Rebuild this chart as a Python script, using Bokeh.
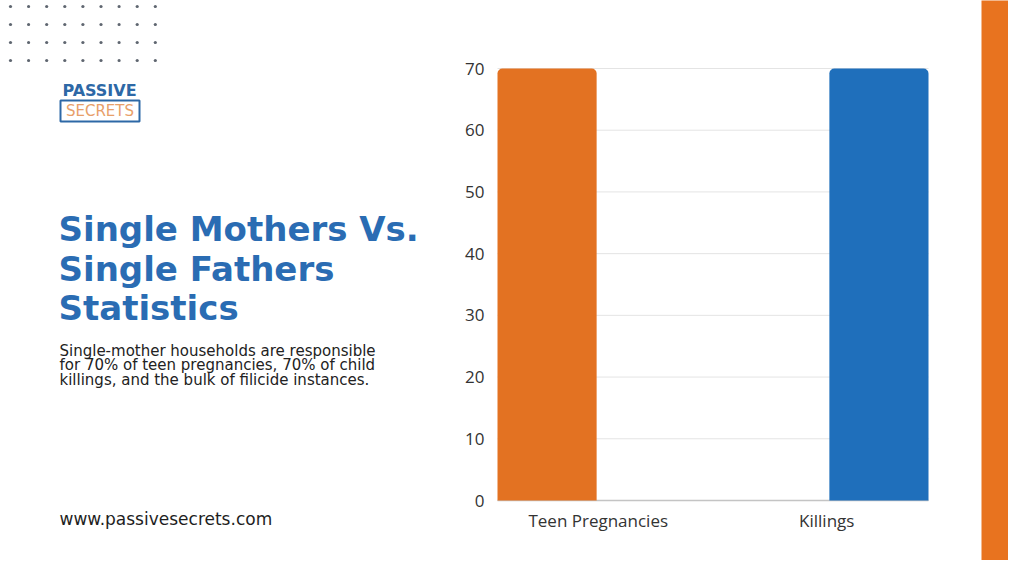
from bokeh.plotting import figure
from bokeh.models import Range1d, ColumnDataSource
from bokeh.core.properties import value
from bokeh.embed import file_html
from bokeh.resources import INLINE

# ---- data ----
categories = ["Teen Pregnancies", "Killings"]
values = [70, 70]
y_ticks = [0, 10, 20, 30, 40, 50, 60, 70]

title_lines = ["Single Mothers Vs.", "Single Fathers", "Statistics"]
desc_lines = ["Single-mother households are responsible",
              "for 70% of teen pregnancies, 70% of child",
              "killings, and the bulk of filicide instances."]
url_text = "www.passivesecrets.com"
logo_top = "PASSIVE"
logo_bottom = "SECRETS"

# ---- styles / layout ----
ORANGE = "#e37222"
BLUE = "#1f6fbb"
TITLE_BLUE = "#2a6cb3"
LOGO_BLUE = "#2d68a6"
bar_colors = [ORANGE, BLUE]
bar_offsets = [-0.27, 0.27]
label_nudge = [-7, 6]
BAR_W = 0.46

W, H = 1008, 560
PAGE_L, PAGE_T = 0, 0            # page offset of the canvas in the picture
CH_L, CH_R = 497, 928            # chart frame in picture pixels
CH_TOP, CH_BOT = 68, 500
Y_MAX = 70
n = len(categories)

# picture-pixel coordinates for the whole canvas
p = figure(width=W, height=H,
           x_range=Range1d(PAGE_L, PAGE_L + W),
           y_range=Range1d(PAGE_T + H, PAGE_T),
           output_backend="svg", toolbar_location=None,
           x_axis_type=None, y_axis_type=None, min_border=0)
p.outline_line_color = None
p.background_fill_color = "white"
p.border_fill_color = "white"
p.grid.visible = False

# chart ranges mapped so that 0..n spans CH_L..CH_R and 0..Y_MAX spans CH_BOT..CH_TOP
kx = n / (CH_R - CH_L)
ky = Y_MAX / (CH_BOT - CH_TOP)
p.extra_x_ranges = {"cx": Range1d((PAGE_L - CH_L) * kx, (PAGE_L + W - CH_L) * kx)}
p.extra_y_ranges = {"cy": Range1d(-(PAGE_T + H - CH_BOT) * ky,
                                  Y_MAX + (CH_TOP - PAGE_T) * ky)}
C = dict(x_range_name="cx", y_range_name="cy")

# gridlines
p.segment(x0=[0] * len(y_ticks), x1=[n] * len(y_ticks), y0=y_ticks, y1=y_ticks,
          line_color="#e4e4e4", line_width=1, **C)
# baseline
p.segment(x0=[0], x1=[n], y0=[0], y1=[0], line_color="#c4c4c4", line_width=1.5, **C)

# bars
centers = [i + 0.5 for i in range(n)]
src = ColumnDataSource(dict(
    x=[c + o for c, o in zip(centers, bar_offsets)],
    top=values, color=bar_colors, cat=categories))
p.vbar(x="x", top="top", bottom=0, width=BAR_W, source=src, color="color",
       line_color=None, border_radius=(5, 5, 0, 0), **C)

# y tick labels
p.text(x=[0] * len(y_ticks), y=y_ticks, text=[str(t) for t in y_ticks],
       x_offset=-13, text_align="right", text_baseline="middle",
       text_font=value("Open Sans"), text_font_size="17px",
       text_color="#333333", **C)
# category labels
p.text(x=centers, y=[0] * n, text=categories, x_offset=label_nudge, y_offset=8,
       text_align="center", text_baseline="top",
       text_font=value("Open Sans"), text_font_size="17px",
       text_color="#333333", **C)

# ---- decorations in picture pixels ----
dot_x, dot_y = [], []
for r in range(4):
    for c in range(9):
        dot_x.append(10 + c * 18.1)
        dot_y.append(6 + r * 18)
p.scatter(x=dot_x, y=dot_y, size=3.2, color="#5f6670", line_color=None)

# logo
p.text(x=[99], y=[89.5], text=[logo_top], text_align="center", text_baseline="middle",
       text_font=value("DejaVu Sans"), text_font_style="bold", text_font_size="16px",
       text_color=LOGO_BLUE)
p.quad(left=[60], right=[139], top=[100], bottom=[121], fill_color="white",
       line_color=LOGO_BLUE, line_width=2)
p.text(x=[99.5], y=[110.5], text=[logo_bottom], text_align="center",
       text_baseline="middle", text_font=value("DejaVu Sans"),
       text_font_size="15px", text_color="#e8a06a")

# title
p.text(x=[58] * 3, y=[228.5 + i * 39.5 for i in range(3)], text=title_lines,
       text_align="left", text_baseline="alphabetic", text_font=value("DejaVu Sans"),
       text_font_style="bold", text_font_size="34px", text_color=TITLE_BLUE)

# description
p.text(x=[59] * 3, y=[350 + i * 14.5 for i in range(3)], text=desc_lines,
       text_align="left", text_baseline="alphabetic",
       text_font=value("DejaVu Sans"), text_font_size="15px",
       text_color="#222222")

# url
p.text(x=[59], y=[518], text=[url_text], text_align="left", text_baseline="middle",
       text_font=value("DejaVu Sans"), text_font_size="17px", text_color="#1e1e1e")

# right stripe
p.quad(left=[981], right=[1030], top=[-10], bottom=[580], fill_color="#e8731f",
       line_color=None)

open("out.html", "w").write(file_html(p, INLINE))
